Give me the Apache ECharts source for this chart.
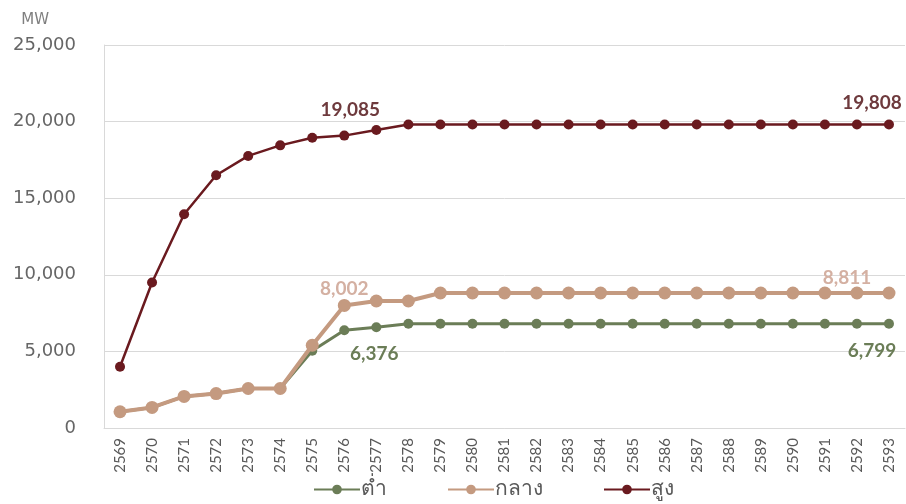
<!DOCTYPE html>
<html>
<head>
<meta charset="utf-8">
<script src="https://cdn.jsdelivr.net/npm/echarts@6/dist/echarts.min.js"></script>
<style>
  html, body { margin: 0; padding: 0; background: #fff; }
  #chart { width: 906px; height: 504px; }
</style>
</head>
<body>
<div id="chart"></div>
<script>
// ปี พ.ศ.
var years = ["2569", "2570", "2571", "2572", "2573", "2574", "2575", "2576", "2577", "2578",
  "2579", "2580", "2581", "2582", "2583", "2584", "2585", "2586", "2587", "2588",
  "2589", "2590", "2591", "2592", "2593"];

var lowValues = [1060, 1340, 2060, 2250, 2580, 2580, 5040, 6376, 6580, 6799,
  6799, 6799, 6799, 6799, 6799, 6799, 6799, 6799, 6799, 6799,
  6799, 6799, 6799, 6799, 6799];
var midValues = [1060, 1340, 2060, 2250, 2580, 2580, 5400, 8002, 8290, 8290,
  8811, 8811, 8811, 8811, 8811, 8811, 8811, 8811, 8811, 8811,
  8811, 8811, 8811, 8811, 8811];
var highValues = [4000, 9500, 13950, 16500, 17760, 18450, 18950, 19085, 19450, 19808,
  19808, 19808, 19808, 19808, 19808, 19808, 19808, 19808, 19808, 19808,
  19808, 19808, 19808, 19808, 19808];

var seriesNames = ["ต่ำ", "กลาง", "สูง"];

var fmt = function (v) {
  return v.toLocaleString("en-US");
};

// ใส่ป้ายค่าเฉพาะบางจุด
function withLabels(values, labels) {
  return values.map(function (v, i) {
    if (labels[i]) {
      return { value: v, label: Object.assign({ show: true }, labels[i]) };
    }
    return v;
  });
}

var chart = echarts.init(document.getElementById("chart"));
var labelFont = {
  fontFamily: "Lato, 'Open Sans', sans-serif",
  fontSize: 19,
  fontWeight: "bold",
  formatter: function (p) { return fmt(p.value); }
};

var options = {
  animation: false,
  color: ["#6B7D57", "#C49A80", "#6A1A1F"],
  grid: {
    left: 104,
    right: 1,
    top: 45,
    bottom: 76,
  },
  legend: {
    top: 474,
    left: 308,
    itemWidth: 46,
    itemHeight: 12,
    itemGap: 60,
    textStyle: {
      fontSize: 21,
      color: "#595959",
      fontFamily: "'Noto Sans', sans-serif",
      padding: [0, 0, 0, -4],
    },
    data: seriesNames,
  },
  xAxis: {
    type: "category",
    boundaryGap: true,
    data: years,
    axisLine: { show: true, lineStyle: { color: "#D9D9D9", width: 1 } },
    axisTick: { show: false },
    axisLabel: {
      rotate: 90,
      margin: 10,
      color: "#595959",
      fontSize: 15,
      fontFamily: "Lato, 'Open Sans', sans-serif",
    },
  },
  yAxis: {
    type: "value",
    min: 0,
    max: 25000,
    interval: 5000,
    name: "MW",
    nameLocation: "end",
    nameGap: 17,
    nameTextStyle: {
      color: "#7F7F7F",
      fontSize: 15,
      align: "right",
      padding: [0, 55, 0, 0],
      fontFamily: "'DejaVu Sans', sans-serif",
    },
    axisLine: { show: true, lineStyle: { color: "#D9D9D9", width: 1 } },
    axisTick: { show: false },
    splitLine: { show: true, lineStyle: { color: "#D9D9D9", width: 1 } },
    axisLabel: {
      margin: 28,
      color: "#666666",
      fontSize: 18,
      fontFamily: "'DejaVu Sans', sans-serif",
      formatter: function (v) { return fmt(v); },
    },
  },
  series: [
    {
      name: seriesNames[0],
      type: "line",
      symbol: "circle",
      symbolSize: 10,
      lineStyle: { width: 3, color: "#6B7D57" },
      itemStyle: { color: "#6B7D57" },
      z: 2,
      data: withLabels(lowValues, {
        7: Object.assign({}, labelFont, { position: "bottom", offset: [30, 4], color: "#6B7D57" }),
        24: Object.assign({}, labelFont, { position: "bottom", offset: [-17, 8], color: "#6B7D57" }),
      }),
    },
    {
      name: seriesNames[1],
      type: "line",
      symbol: "circle",
      symbolSize: 13,
      lineStyle: { width: 4, color: "#C49A80" },
      itemStyle: { color: "#C49A80" },
      z: 3,
      data: withLabels(midValues, {
        7: Object.assign({}, labelFont, { position: "top", offset: [0, 4], color: "#D4B0A2" }),
        24: Object.assign({}, labelFont, { position: "top", offset: [-42, 6], color: "#D4B0A2" }),
      }),
    },
    {
      name: seriesNames[2],
      type: "line",
      symbol: "circle",
      symbolSize: 10,
      lineStyle: { width: 2.5, color: "#6A1A1F" },
      itemStyle: { color: "#6A1A1F" },
      z: 4,
      data: withLabels(highValues, {
        7: Object.assign({}, labelFont, { position: "top", offset: [6, -6], color: "#6E3A3D" }),
        24: Object.assign({}, labelFont, { position: "top", offset: [-17, -2], color: "#6E3A3D" }),
      }),
    },
  ],
};
chart.setOption(options, true);
</script>
</body>
</html>
